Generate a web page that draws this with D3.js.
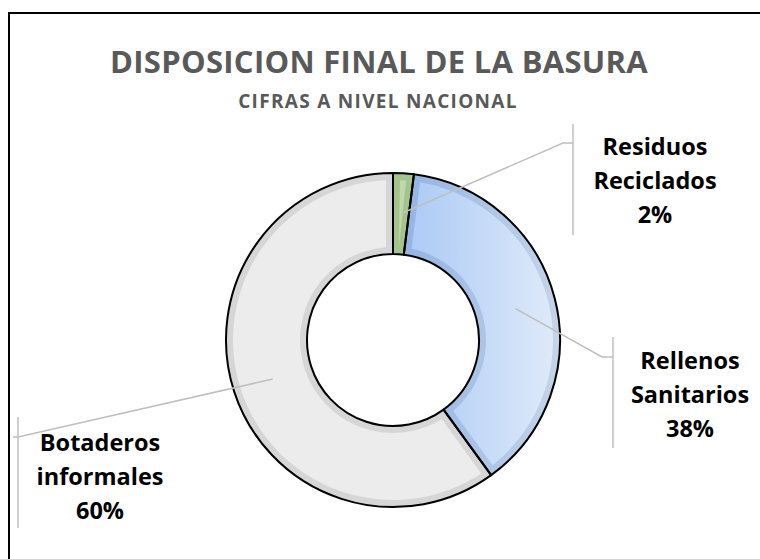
<!DOCTYPE html>
<html>
<head>
<meta charset="utf-8">
<script src="https://cdn.jsdelivr.net/npm/d3@7"></script>
<style>
  body { margin: 0; background: #fff; }
  svg { display: block; }
</style>
</head>
<body>
<svg id="chart" width="760" height="559"></svg>
<script>
// data
const categories = ["Residuos Reciclados", "Rellenos Sanitarios", "Botaderos informales"];
const labelLines = [["Residuos", "Reciclados"], ["Rellenos", "Sanitarios"], ["Botaderos", "informales"]];
const values = [2, 38, 60];

const width = 760, height = 559;
const cx = 393, cy = 340;
const outerR = 167, innerR = 86;

const svg = d3.select("#chart");

// frame
svg.append("rect")
    .attr("x", 9).attr("y", 13)
    .attr("width", 760).attr("height", 560)
    .attr("fill", "#fff")
    .attr("stroke", "#000")
    .attr("stroke-width", 2);

// titles
svg.append("text")
    .attr("x", 379).attr("y", 73)
    .attr("text-anchor", "middle")
    .attr("font-family", "Open Sans")
    .attr("font-weight", 700)
    .attr("font-size", 31)
    .attr("letter-spacing", 0.3)
    .attr("fill", "#595959")
    .text("DISPOSICION FINAL DE LA BASURA");

svg.append("text")
    .attr("x", 378).attr("y", 108)
    .attr("text-anchor", "middle")
    .attr("font-family", "Open Sans")
    .attr("font-weight", 700)
    .attr("font-size", 19)
    .attr("letter-spacing", 1.3)
    .attr("fill", "#595959")
    .text("CIFRAS A NIVEL NACIONAL");

// gradients (in the donut group's local coordinates)
const defs = svg.append("defs");
function grad(id, c0, c1) {
    const g = defs.append("linearGradient")
        .attr("id", id)
        .attr("gradientUnits", "userSpaceOnUse")
        .attr("x1", 0).attr("y1", 0)
        .attr("x2", outerR).attr("y2", 0);
    g.append("stop").attr("offset", "0%").attr("stop-color", c0);
    g.append("stop").attr("offset", "100%").attr("stop-color", c1);
}
grad("blueBand", "#8fb1e2", "#c6d4e8");
grad("blueFill", "#a6c7f5", "#e0ebf9");

const bandColors = ["#a5c48d", "url(#blueBand)", "#d6d6d6"];
const fillColors = ["#bfd9ab", "url(#blueFill)", "#ececec"];

const pie = d3.pie().sort(null).value(d => d);
const arcs = pie(values);

const arc = d3.arc().innerRadius(innerR).outerRadius(outerR);
const inset = 7;
const arcInner = d3.arc()
    .innerRadius(innerR + inset)
    .outerRadius(outerR - inset)
    .padRadius(outerR)
    .padAngle(2 * inset / outerR);

const g = svg.append("g").attr("transform", `translate(${cx},${cy})`);

g.selectAll("path.band")
    .data(arcs)
    .join("path")
    .attr("class", "band")
    .attr("d", arc)
    .attr("fill", (d, i) => bandColors[i]);

g.selectAll("path.fill")
    .data(arcs)
    .join("path")
    .attr("class", "fill")
    .attr("d", arcInner)
    .attr("fill", (d, i) => fillColors[i]);

g.selectAll("path.edge")
    .data(arcs)
    .join("path")
    .attr("class", "edge")
    .attr("d", arc)
    .attr("fill", "none")
    .attr("stroke", "#000")
    .attr("stroke-width", 2)
    .attr("stroke-linejoin", "round");

// label layout: knee point, line end, bar x and range, text centre
const layout = [
    { kx: 563, ky: 143, ex: 573, bx: 573, by0: 124, by1: 235, tx: 655, ty: 155 },
    { kx: 602, ky: 357, ex: 613, bx: 613, by0: 337, by1: 448, tx: 690, ty: 369 },
    { kx: 18, ky: 437, ex: 13, bx: 18, by0: 417, by1: 528, tx: 100, ty: 451 }
];

const lines = svg.append("g")
    .attr("fill", "none")
    .attr("stroke", "#bfbfbf")
    .attr("stroke-width", 1.5);

arcs.forEach((d, i) => {
    const c = arc.centroid(d);
    const L = layout[i];
    lines.append("polyline")
        .attr("points", [[cx + c[0], cy + c[1]], [L.kx, L.ky], [L.ex, L.ky]].map(p => p.join(",")).join(" "));
    lines.append("line")
        .attr("x1", L.bx).attr("x2", L.bx)
        .attr("y1", L.by0).attr("y2", L.by1);

    const t = svg.append("text")
        .attr("text-anchor", "middle")
        .attr("font-family", "Open Sans")
        .attr("font-weight", 700)
        .attr("font-size", 23.5)
        .attr("fill", "#000");
    const rows = labelLines[i].concat([values[i] + "%"]);
    rows.forEach((r, k) => {
        t.append("tspan")
            .attr("x", L.tx)
            .attr("y", L.ty + k * 34)
            .text(r);
    });
});
</script>
</body>
</html>
